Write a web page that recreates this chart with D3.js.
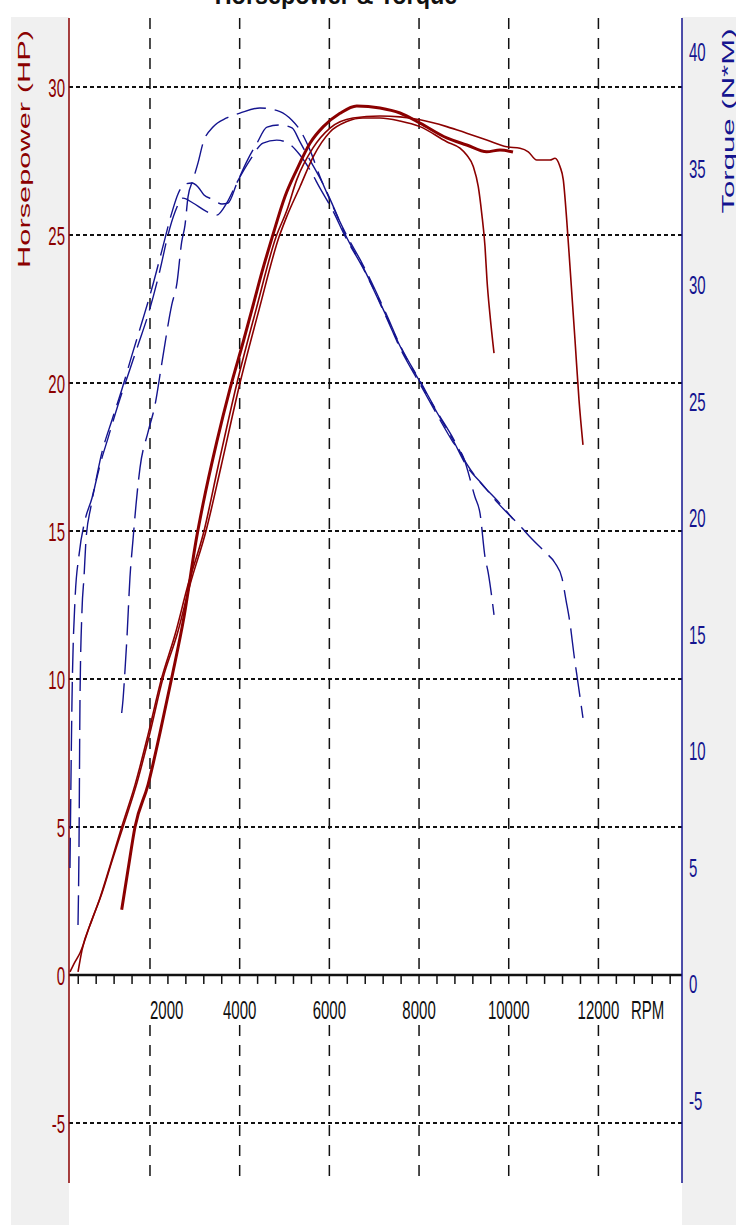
<!DOCTYPE html>
<html>
<head>
<meta charset="utf-8">
<script src="https://cdn.jsdelivr.net/npm/d3@7"></script>
<style>
  html, body { margin: 0; padding: 0; background: #fff; }
  svg { display: block; }
  text { font-family: Arial, "Liberation Sans", sans-serif; }
</style>
</head>
<body>
<script>
// three dyno runs, [rpm, value]
const hpThick = [[1369,2.20],[1510,3.55],[1666,5.00],[1956,6.42],[2223,8.18],[2484,10.03],[2759,12.1],[3042,14.8],[3182,15.9],[3488,18.0],[3784,19.8],[4081,21.4],[4304,22.65],[4498,23.75],[4721,24.9],[5011,26.3],[5272,27.20],[5568,28.10],[5865,28.66],[6237,29.11],[6610,29.36],[7129,29.29],[7575,29.12],[8021,28.78],[8617,28.28],[9063,28.04],[9509,27.81],[9805,27.87],[10095,27.80]]

const hpLong = [[216,0.10],[328,0.44],[439,0.74],[662,1.69],[885,2.60],[1108,3.68],[1369,5.00],[1666,6.42],[1956,8.11],[2261,10.03],[2558,11.49],[2848,13.18],[3205,15.0],[3517,17.17],[3940,20.0],[4364,22.47],[4810,24.93],[5055,25.84],[5272,26.86],[5635,27.94],[6014,28.61],[6527,28.95],[7129,29.02],[7575,28.99],[8021,28.89],[8617,28.66],[9063,28.44],[9509,28.21],[9955,27.98],[10251,27.93],[10436,27.81],[10624,27.53],[10920,27.53],[11032,27.59],[11143,27.31],[11217,26.86],[11293,25.51],[11366,23.93],[11478,21.45],[11567,19.43],[11656,17.91]]

const hpShort = [[395,0.10],[484,0.84],[707,1.86],[930,2.77],[1153,3.85],[1398,5.0],[1710,6.49],[2000,8.18],[2290,10.03],[2602,11.49],[2892,13.18],[3249,15.0],[3584,17.17],[4007,20.0],[4431,22.47],[4877,24.93],[5049,25.62],[5345,26.63],[5642,27.65],[6014,28.48],[6387,28.83],[6750,28.95],[7129,28.95],[7575,28.85],[8021,28.66],[8617,28.15],[8913,27.93],[9063,27.70],[9210,27.31],[9321,26.63],[9397,25.74],[9471,24.61],[9515,23.48],[9582,22.30],[9672,21.01]]

const tqThick = [[1369,11.33],[1398,11.89],[1443,13.18],[1487,14.59],[1554,17.17],[1621,18.76],[1688,20.26],[1777,21.85],[1956,23.39],[2112,24.55],[2268,26.39],[2484,28.84],[2602,29.79],[2707,31.55],[2781,32.27],[2848,33.48],[2959,34.21],[3071,34.94],[3182,35.79],[3405,36.48],[3711,36.87],[4007,37.08],[4453,37.30],[4899,37.14],[5160,36.78],[5345,36.35],[5568,35.49],[5791,34.35],[6014,33.35],[6349,31.97],[6750,30.56],[7279,28.41],[7575,27.12],[8021,25.58],[8394,24.29],[8757,23.13],[9063,22.02],[9359,21.24],[9754,20.43],[10095,19.66]]

const tqLong = [[216,4.68],[261,11.89],[328,16.18],[417,18.11],[551,19.61],[707,20.56],[930,22.53],[1153,23.91],[1376,25.24],[1599,26.70],[1822,28.11],[2045,29.57],[2268,31.20],[2491,32.83],[2625,33.61],[2781,34.03],[2937,34.08],[3071,33.91],[3205,33.56],[3383,33.39],[3606,33.18],[3740,33.22],[3940,34.08],[4163,35.02],[4386,35.79],[4609,36.48],[4899,36.57],[5167,36.44],[5345,35.84],[5568,35.06],[5836,34.12],[6104,33.00],[6349,31.89],[6750,30.47],[7279,28.33],[7575,27.08],[8021,25.54],[8394,24.25],[8757,23.05],[9063,21.93],[9404,21.16],[9761,20.34],[10296,19.27],[10497,18.84],[10809,18.24],[11032,17.77],[11188,17.12],[11277,16.18],[11366,15.19],[11456,13.82],[11545,12.62],[11656,11.12]]

const tqShort = [[395,2.23],[417,5.58],[439,11.89],[484,15.75],[529,17.17],[573,18.76],[685,20.21],[885,21.97],[1064,23.13],[1287,24.55],[1510,25.84],[1733,27.12],[1956,28.41],[2223,30.34],[2402,31.85],[2558,32.83],[2736,33.43],[2959,33.22],[3265,32.85],[3488,32.70],[3711,33.22],[3934,34.08],[4230,35.06],[4520,35.79],[4826,35.92],[5078,35.79],[5345,35.28],[5568,34.64],[5791,33.86],[6081,32.88],[6349,31.80],[6750,30.43],[7279,28.28],[7575,27.00],[8021,25.45],[8394,24.16],[8757,22.96],[8987,22.32],[9248,20.60],[9359,19.91],[9471,18.03],[9544,17.34],[9672,15.54]]

const hpTicks = [-5, 0, 5, 10, 15, 20, 25, 30]
const hpGrid = [-5, 5, 10, 15, 20, 25, 30]
const torqueTicks = [-5, 0, 5, 10, 15, 20, 25, 30, 35, 40]
const rpmTicks = [2000, 4000, 6000, 8000, 10000, 12000]
const rpmMinor = d3.range(400, 13700, 400)

const width = 736
const height = 1225
const plot = {left: 69, right: 682, top: 18, bottom: 1183}

const red = '#8b0000'
const blue = '#14148f'

const svg = d3.select('body').append('svg')
  .attr('width', width)
  .attr('height', height)
  .attr('viewBox', `0 0 ${width} ${height}`)

const x = d3.scaleLinear()
  .domain([194, 13864])
  .range([plot.left, plot.right])

const yHp = d3.scaleLinear()
  .domain([-7.03, 32.33])
  .range([plot.bottom, plot.top])

const yTq = d3.scaleLinear()
  .domain([-8.84, 41.16])
  .range([plot.bottom, plot.top])

// side panels
svg.append('rect')
  .attr('x', 11).attr('y', 17)
  .attr('width', plot.left - 11).attr('height', height - 17)
  .attr('fill', '#f0f0f0')
svg.append('rect')
  .attr('x', plot.right).attr('y', 17)
  .attr('width', width - plot.right).attr('height', height - 17)
  .attr('fill', '#f0f0f0')

// grid
svg.append('g')
  .selectAll('line')
  .data(hpGrid)
  .join('line')
    .attr('x1', plot.left).attr('x2', plot.right)
    .attr('y1', d => yHp(d)).attr('y2', d => yHp(d))
    .attr('stroke', '#111')
    .attr('stroke-width', 2)
    .attr('stroke-dasharray', '4,3')

const vgrid = svg.append('g')
  .attr('stroke', '#111')
  .attr('stroke-width', 1.5)
  .attr('stroke-dasharray', '11,9')
vgrid.selectAll('line.a')
  .data(rpmTicks)
  .join('line')
    .attr('class', 'a')
    .attr('x1', d => x(d)).attr('x2', d => x(d))
    .attr('y1', plot.top).attr('y2', yHp(0))
vgrid.selectAll('line.b')
  .data(rpmTicks)
  .join('line')
    .attr('class', 'b')
    .attr('x1', d => x(d)).attr('x2', d => x(d))
    .attr('y1', 1025).attr('y2', plot.bottom)

// x axis
svg.append('line')
  .attr('x1', plot.left).attr('x2', plot.right)
  .attr('y1', yHp(0)).attr('y2', yHp(0))
  .attr('stroke', '#111')
  .attr('stroke-width', 2.5)

svg.append('g')
  .selectAll('line')
  .data(rpmMinor)
  .join('line')
    .attr('x1', d => x(d)).attr('x2', d => x(d))
    .attr('y1', yHp(0)).attr('y2', yHp(0) + 9)
    .attr('stroke', '#111')
    .attr('stroke-width', 1.5)

// side axes
svg.append('line')
  .attr('x1', plot.left).attr('x2', plot.left)
  .attr('y1', plot.top).attr('y2', plot.bottom)
  .attr('stroke', red).attr('stroke-width', 1.5)
svg.append('line')
  .attr('x1', plot.right).attr('x2', plot.right)
  .attr('y1', plot.top).attr('y2', plot.bottom)
  .attr('stroke', blue).attr('stroke-width', 1.5)

// curves
const hpLine = d3.line()
  .x(d => x(d[0]))
  .y(d => yHp(d[1]))
  .curve(d3.curveMonotoneX)

const tqLine = d3.line()
  .x(d => x(d[0]))
  .y(d => yTq(d[1]))
  .curve(d3.curveMonotoneX)

const curves = svg.append('g').attr('fill', 'none')

for (const run of [tqLong, tqShort, tqThick]) {
  curves.append('path')
    .attr('d', tqLine(run))
    .attr('stroke', blue)
    .attr('stroke-width', 1.4)
    .attr('stroke-dasharray', '30,9')
}

curves.append('path').attr('d', hpLine(hpLong))
  .attr('stroke', red).attr('stroke-width', 1.6)
curves.append('path').attr('d', hpLine(hpShort))
  .attr('stroke', red).attr('stroke-width', 1.6)
curves.append('path').attr('d', hpLine(hpThick))
  .attr('stroke', red).attr('stroke-width', 3)

// labels
const squish = 0.6
const fs = 25

svg.append('g')
  .selectAll('text')
  .data(hpTicks)
  .join('text')
    .attr('transform', d => `translate(65,${yHp(d) + 10}) scale(${squish},1)`)
    .attr('text-anchor', 'end')
    .attr('font-size', fs)
    .attr('fill', red)
    .text(d => d)

svg.append('g')
  .selectAll('text')
  .data(torqueTicks)
  .join('text')
    .attr('transform', d => `translate(689,${yTq(d) + 16}) scale(${squish},1)`)
    .attr('font-size', fs)
    .attr('fill', blue)
    .text(d => d)

svg.append('g')
  .selectAll('text')
  .data(rpmTicks)
  .join('text')
    .attr('transform', d => `translate(${x(d)},1019) scale(${squish},1)`)
    .attr('text-anchor', (d, i) => i == 0 ? 'start' : 'middle')
    .attr('font-size', fs)
    .attr('fill', '#111')
    .text(d => d)

svg.append('text')
  .attr('transform', `translate(631,1019) scale(${squish},1)`)
  .attr('font-size', fs)
  .attr('fill', '#111')
  .text('RPM')

// title sits mostly above the page, as in the screenshot
svg.append('text')
  .attr('transform', 'translate(336,4) scale(0.9,1)')
  .attr('text-anchor', 'middle')
  .attr('font-size', 26)
  .attr('font-weight', 'bold')
  .attr('fill', '#111')
  .text('Horsepower & Torque')

svg.append('text')
  .attr('transform', 'translate(30,149) rotate(-90) scale(1,0.55)')
  .attr('text-anchor', 'middle')
  .attr('font-size', 30)
  .attr('textLength', 238)
  .attr('lengthAdjust', 'spacingAndGlyphs')
  .attr('fill', red)
  .text('Horsepower (HP)')

svg.append('text')
  .attr('transform', 'translate(734,121) rotate(-90) scale(1,0.55)')
  .attr('text-anchor', 'middle')
  .attr('font-size', 30)
  .attr('textLength', 185)
  .attr('lengthAdjust', 'spacingAndGlyphs')
  .attr('fill', blue)
  .text('Torque (N*M)')
</script>
</body>
</html>
